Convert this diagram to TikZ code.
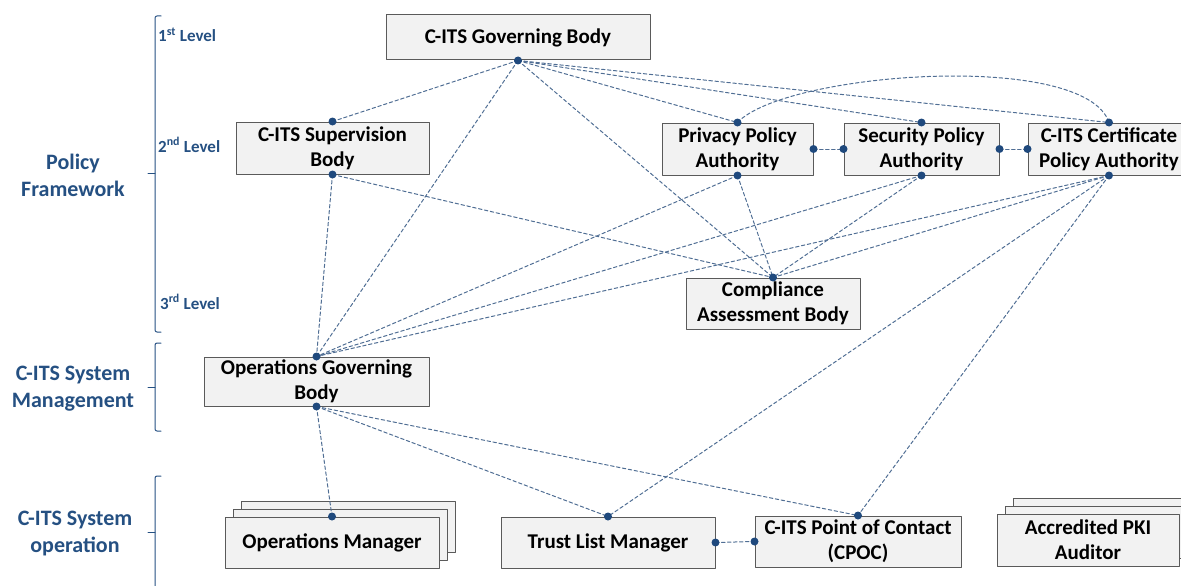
\documentclass[tikz,border=0pt]{standalone}
\usepackage{fontspec}
\setmainfont{Carlito}
\usepackage[dvipsnames]{xcolor}
\usetikzlibrary{shadows}
\definecolor{steelline}{RGB}{80,110,148}
\definecolor{dotblue}{RGB}{31,73,125}
\definecolor{labelblue}{RGB}{37,80,130}
\definecolor{boxgray}{RGB}{242,242,242}
\definecolor{edgegray}{RGB}{90,90,90}

\begin{document}
\begin{tikzpicture}[line cap=round,line join=round, x=1pt, y=-1pt,
    unit/.style={draw=edgegray, fill=boxgray, line width=1pt, inner sep=0pt, align=center,
      font=\bfseries\fontsize{21}{25}\selectfont},
    stack/.style={copy shadow={shadow xshift=16pt, shadow yshift=16pt},
      copy shadow={shadow xshift=8pt, shadow yshift=8pt}},
    link/.style={steelline, line width=1pt, dash pattern=on 3.5pt off 2.5pt},
    tier/.style={labelblue, align=center, font=\bfseries\fontsize{22}{27}\selectfont},
    level/.style={labelblue, anchor=west, inner sep=0pt, font=\bfseries\fontsize{17}{20}\selectfont},
    brace/.style={labelblue, line width=1pt, rounded corners=2pt}]
  \useasboundingbox (0,0) rectangle (1181,586);

  % levels on the left
  \node[tier] (pf) at (73,175.5) {Policy\\Framework};
  \node[tier] (sm) at (73,388.5) {C-ITS System\\Management};
  \node[tier] (so) at (75,533.5) {C-ITS System\\operation};
  \draw[brace] (161,16) -- (155,16) -- (155,332) -- (161,332);
  \draw[brace] (155,173) -- (148,173);
  \draw[brace] (161,343) -- (155,343) -- (155,431) -- (161,431);
  \draw[brace] (155,387) -- (148,387);
  \draw[brace] (161,476) -- (155,476) -- (155,600);
  \draw[brace] (155,532) -- (148,532);
  \node[level] (l1) at (158,35) {1\textsuperscript{st} Level};
  \node[level] (l2) at (158,145) {2\textsuperscript{nd} Level};
  \node[level] (l3) at (160,302) {3\textsuperscript{rd} Level};

  % bodies
  \node[unit, minimum width=264pt, minimum height=45pt] (gb) at (518,37.5) {C-ITS Governing Body};
  \node[unit, minimum width=193pt, minimum height=52pt] (sb) at (332.5,148) {C-ITS Supervision\\Body};
  \node[unit, minimum width=151pt, minimum height=52pt] (ppa) at (737.5,149) {Privacy Policy\\Authority};
  \node[unit, minimum width=155pt, minimum height=52pt] (spa) at (921.5,149) {Security Policy\\Authority};
  \node[unit, minimum width=162pt, minimum height=52pt] (cpa) at (1109,149) {C-ITS Certificate\\Policy Authority};
  \node[unit, minimum width=174pt, minimum height=51pt] (cab) at (773,303.5) {Compliance\\Assessment Body};
  \node[unit, minimum width=225pt, minimum height=49pt] (ogb) at (316.5,381.5) {Operations Governing\\Body};
  \node[unit, stack, minimum width=214pt, minimum height=51pt] (om) at (332,542.5) {Operations Manager};
  \node[unit, minimum width=214pt, minimum height=51pt] (tlm) at (608,542.5) {Trust List Manager};
  \node[unit, minimum width=206pt, minimum height=51pt] (cpoc) at (858,541.5) {C-ITS Point of Contact\\(CPOC)};
  \node[unit, stack, minimum width=182pt, minimum height=52pt] (pki) at (1088,540) {Accredited PKI\\Auditor};

  % links
  \foreach \a/\b in {gb.south/sb.north, gb.south/ogb.north, gb.south/cab.north,
      gb.south/ppa.north, gb.south/spa.north, gb.south/cpa.north,
      sb.south/ogb.north, sb.south/cab.north, ppa.south/ogb.north, ppa.south/cab.north,
      spa.south/ogb.north, spa.south/cab.north, cpa.south/ogb.north, cpa.south/cab.north,
      cpa.south/tlm.north, cpa.south/cpoc.north, ogb.south/om.north, ogb.south/tlm.north,
      ogb.south/cpoc.north, ppa.east/spa.west, spa.east/cpa.west, tlm.east/cpoc.west}
    \draw[link] (\a) -- (\b);
  \draw[link] (ppa.north) .. controls (785,72) and (1085,50) .. (cpa.north);

  % dots
  \foreach \p in {gb.south, sb.north, sb.south, ppa.north, ppa.south, ppa.east,
      spa.north, spa.south, spa.west, spa.east, cpa.north, cpa.south, cpa.west,
      cab.north, ogb.north, ogb.south, om.north, tlm.north, tlm.east, cpoc.north, cpoc.west}
    \fill[dotblue] (\p) circle (4pt);
\end{tikzpicture}
\end{document}
